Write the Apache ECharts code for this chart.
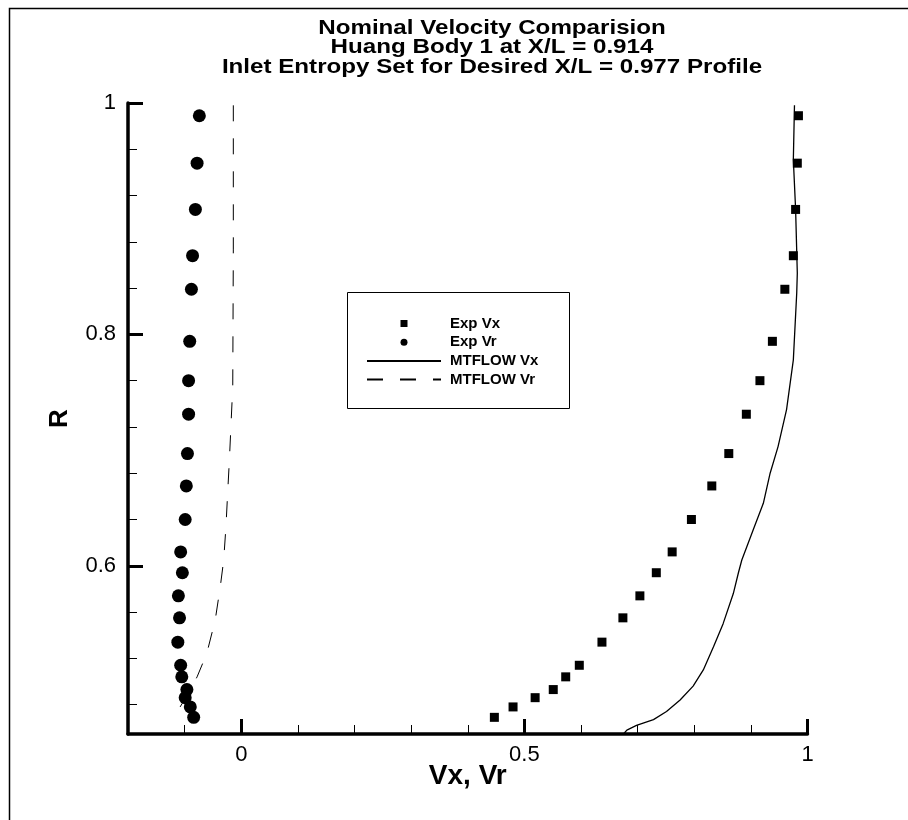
<!DOCTYPE html>
<html>
<head>
<meta charset="utf-8">
<script src="https://cdn.jsdelivr.net/npm/echarts@6/dist/echarts.min.js"></script>
<style>
  html, body { margin: 0; padding: 0; background: #fff; }
  #chart { width: 908px; height: 820px; }
</style>
</head>
<body>
<div id="chart"></div>
<script>
// radial stations of the measurements (shared by Vx and Vr)
var rExp = [0.989, 0.948, 0.908, 0.868, 0.839, 0.794, 0.760, 0.731, 0.697, 0.669, 0.640,
  0.612, 0.594, 0.574, 0.555, 0.534, 0.514, 0.504, 0.493, 0.486, 0.478, 0.469];
var vxExp = [0.984, 0.982, 0.979, 0.975, 0.960, 0.938, 0.916, 0.892, 0.861, 0.831, 0.795,
  0.761, 0.733, 0.704, 0.674, 0.637, 0.597, 0.573, 0.551, 0.519, 0.480, 0.447];
var vrExp = [-0.074, -0.078, -0.081, -0.086, -0.088, -0.091, -0.093, -0.093, -0.095, -0.097, -0.099,
  -0.107, -0.104, -0.111, -0.109, -0.112, -0.107, -0.105, -0.096, -0.099, -0.090, -0.084];

// MTFLOW curves
var vxLineR = [0.998, 0.951, 0.908, 0.853, 0.836, 0.778, 0.735, 0.703, 0.680, 0.654, 0.631,
  0.605, 0.594, 0.576, 0.550, 0.530, 0.510, 0.496, 0.484, 0.474, 0.467, 0.462, 0.458, 0.4546];
var vxLineV = [0.977, 0.975, 0.979, 0.982, 0.981, 0.975, 0.963, 0.948, 0.934, 0.922, 0.904,
  0.884, 0.878, 0.869, 0.851, 0.834, 0.816, 0.798, 0.775, 0.751, 0.728, 0.698, 0.681, 0.675];
var vrLineR = [0.998, 0.873, 0.755, 0.723, 0.691, 0.663, 0.634, 0.605, 0.582, 0.553, 0.524,
  0.504, 0.490, 0.478, 0.470];
var vrLineV = [-0.014, -0.014, -0.015, -0.018, -0.021, -0.024, -0.027, -0.031, -0.037, -0.046, -0.061,
  -0.078, -0.093, -0.108, -0.122];

var xTickLabels = [0, 0.5, 1];
var yTickLabels = [0.6, 0.8, 1];
var titleLines = [
  "Nominal Velocity Comparision",
  "Huang Body 1 at X/L = 0.914",
  "Inlet Entropy Set for Desired X/L = 0.977 Profile"
];

var xMin = -0.2, xMax = 1, yMin = 0.4546, yMax = 1;
var plotLeft = 128, plotTop = 103, plotRight = 807.5, plotBottom = 734;
var pxX = (plotRight - plotLeft) / (xMax - xMin);
var pxY = (plotBottom - plotTop) / (yMax - yMin);

function pairs(xs, ys) {
  return xs.map(function (x, i) { return [x, ys[i]]; });
}

var font = '"Liberation Sans", Arial, Helvetica, sans-serif';
var myChart = echarts.init(document.getElementById("chart"));
var hiddenX = { type: "value", show: false, min: 0, max: 1 };
var hiddenY = { type: "value", show: false, min: 0, max: 1 };

// title: 3 lines, slightly widened like the original Tecplot output
var titleGraphics = titleLines.map(function (t, i) {
  return {
    type: "text", x: 492, y: 28 + i * 19.5, scaleX: 1.15, silent: true,
    style: { text: t, font: "bold 21px " + font, fill: "#000", textAlign: "center", textVerticalAlign: "middle" }
  };
});

var blank = { color: "rgba(0,0,0,0)", borderWidth: 0, opacity: 0 };

var option = {
  animation: false,
  backgroundColor: "#fff",
  legend: {
    orient: "vertical",
    left: 366,
    top: 316,
    itemWidth: 74,
    itemHeight: 7,
    itemGap: 3.7,
    padding: 0,
    data: [
      { name: "Exp Vx", icon: "path://M0 0H10V10H0Z" },
      { name: "Exp Vr", icon: "circle" },
      { name: "MTFLOW Vx", itemStyle: blank },
      { name: "MTFLOW Vr", itemStyle: blank }
    ],
    textStyle: { fontFamily: font, fontSize: 15, fontWeight: "bold", color: "#000", lineHeight: 14, padding: [0, 0, 0, 4] }
  },
  graphic: [
    { type: "rect", left: 7, top: 6, silent: true,
      shape: { width: 1000, height: 1000 },
      style: { fill: "none", stroke: "#000", lineWidth: 1.5 } },
    { type: "rect", left: 347, top: 292, silent: true, z: -1,
      shape: { width: 222, height: 116 },
      style: { fill: "#fff", stroke: "#000", lineWidth: 1 } }
  ].concat(titleGraphics),
  grid: [
    { left: plotLeft, top: plotTop, width: plotRight - plotLeft, height: plotBottom - plotTop },
    { left: plotLeft, top: plotTop, width: plotRight - plotLeft, height: (yMax - 0.48) * pxY },
    { left: plotLeft, top: plotTop, width: plotRight - plotLeft, height: (yMax - 0.6) * pxY },
    { left: plotLeft + (0 - xMin) * pxX, top: plotTop, width: (1 - 0) * pxX, height: plotBottom - plotTop }
  ],
  xAxis: [
    {
      type: "value", gridIndex: 0, min: xMin, max: xMax, interval: 0.1,
      name: "Vx, Vr", nameLocation: "middle", nameGap: 28,
      nameTextStyle: { fontFamily: font, fontSize: 28, fontWeight: "bold", color: "#000" },
      axisLine: { onZero: false, lineStyle: { color: "#000", width: 3.5 } },
      axisTick: { inside: true, length: 9, lineStyle: { color: "#000", width: 1 } },
      axisLabel: { show: false },
      splitLine: { show: false }
    },
    Object.assign({ gridIndex: 1 }, hiddenX),
    Object.assign({ gridIndex: 2 }, hiddenX),
    {
      type: "value", gridIndex: 3, min: xTickLabels[0], max: xTickLabels[2], interval: 0.5,
      axisLine: { show: false },
      axisTick: { inside: true, length: 15, lineStyle: { color: "#000", width: 3 } },
      axisLabel: { margin: 10, color: "#000", fontFamily: font, fontSize: 22 },
      splitLine: { show: false }
    }
  ],
  yAxis: [
    {
      type: "value", gridIndex: 0, min: yMin, max: yMax,
      name: "R", nameLocation: "middle", nameGap: 55,
      nameTextStyle: { fontFamily: font, fontSize: 26, fontWeight: "bold", color: "#000" },
      axisLine: { onZero: false, lineStyle: { color: "#000", width: 3.5 } },
      axisTick: { show: false },
      axisLabel: { show: false },
      splitLine: { show: false }
    },
    {
      type: "value", gridIndex: 1, min: 0.48, max: yMax, interval: 0.04,
      axisLine: { show: false },
      axisTick: { inside: true, length: 9, lineStyle: { color: "#000", width: 1 } },
      axisLabel: { show: false },
      splitLine: { show: false }
    },
    {
      type: "value", gridIndex: 2, min: yTickLabels[0], max: yTickLabels[2], interval: 0.2,
      axisLine: { show: false },
      axisTick: { inside: true, length: 15, lineStyle: { color: "#000", width: 3 } },
      axisLabel: { margin: 12, color: "#000", fontFamily: font, fontSize: 22 },
      splitLine: { show: false }
    },
    Object.assign({ gridIndex: 3 }, hiddenY)
  ],
  series: [
    {
      name: "Exp Vx", type: "scatter", xAxisIndex: 0, yAxisIndex: 0,
      symbol: "rect", symbolSize: 9,
      itemStyle: { color: "#000", opacity: 1 },
      data: pairs(vxExp, rExp)
    },
    {
      name: "Exp Vr", type: "scatter", xAxisIndex: 0, yAxisIndex: 0,
      symbol: "circle", symbolSize: 13,
      itemStyle: { color: "#000", opacity: 1 },
      data: pairs(vrExp, rExp)
    },
    {
      name: "MTFLOW Vx", type: "line", xAxisIndex: 0, yAxisIndex: 0,
      symbol: "none", showSymbol: false,
      itemStyle: { color: "#000" },
      lineStyle: { color: "#000", width: 1.3 },
      data: pairs(vxLineV, vxLineR)
    },
    {
      name: "MTFLOW Vr", type: "line", xAxisIndex: 0, yAxisIndex: 0,
      symbol: "none", showSymbol: false,
      itemStyle: { color: "#000" },
      lineStyle: { color: "#000", width: 1, type: [16, 17] },
      data: pairs(vrLineV, vrLineR)
    }
  ]
};
myChart.setOption(option);
</script>
</body>
</html>
